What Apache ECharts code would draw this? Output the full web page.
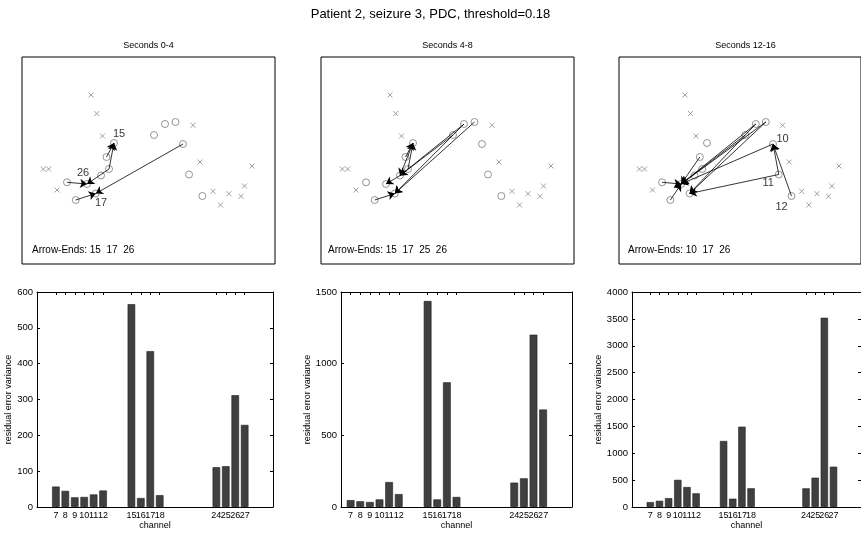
<!DOCTYPE html>
<html><head><meta charset="utf-8">
<script src="https://cdn.jsdelivr.net/npm/echarts@6/dist/echarts.min.js"></script>
<style>html,body{margin:0;padding:0;background:#fff}#c{width:861px;height:534px}</style>
</head><body><div id="c"></div>
<script>
// ---------------- data ----------------
const chartTitle = 'Patient 2, seizure 3, PDC, threshold=0.18';
const panelTitles = ['Seconds 0-4', 'Seconds 4-8', 'Seconds 12-16'];
const arrowEndsText = ['Arrow-Ends: 15  17  26', 'Arrow-Ends: 15  17  25  26', 'Arrow-Ends: 10  17  26'];

const channels = [7, 8, 9, 10, 11, 12, 15, 16, 17, 18, 24, 25, 26, 27];
const variance0_4 = [57, 45, 27, 28, 35, 46, 566, 25, 435, 33, 111, 114, 312, 229];
const variance4_8 = [48, 40, 35, 53, 174, 90, 1437, 53, 870, 70, 170, 200, 1202, 680];
const variance12_16 = [90, 115, 165, 505, 372, 254, 1228, 154, 1494, 348, 347, 545, 3520, 750];
const yMaxes = [600, 1500, 4000];
const ySteps = [100, 500, 500];
const xRanges = [[5, 30], [6, 30], [5, 30]];

// electrode map (map units, y downwards)
const otherElectrodes = [[69, 38], [74.7, 56.5], [80.5, 79], [21.3, 112], [26.7, 112], [35, 133],
  [171, 68.3], [178, 105], [230, 109], [222.5, 129], [191, 134.3], [207, 136.7], [219, 139.3], [198.5, 148]];
const channelPos = {
  7: [132, 78], 8: [143, 67], 9: [153.5, 65], 10: [161, 87], 11: [167, 117.5], 12: [180.3, 139],
  15: [92, 86], 16: [84.5, 100], 17: [73.8, 136.5], 18: [87, 112],
  24: [45, 125.3], 25: [79, 118.5], 26: [65, 127], 27: [53.7, 143]
};
const arrows0_4 = [[24, 26], [18, 26], [16, 15], [18, 15], [27, 17], [10, 17]];
const arrows4_8 = [[16, 15], [18, 15], [15, 25], [25, 26], [27, 17], [7, 25], [8, 25], [8, 17], [9, 17]];
const arrows12_16 = [[12, 10], [11, 10], [7, 26], [8, 26], [9, 26], [16, 26], [24, 26], [27, 26], [10, 26], [11, 17], [9, 17], [8, 17]];
const nodeLabels0_4 = [['15', [97, 77]], ['26', [61, 116]], ['17', [79, 146]]];
const nodeLabels4_8 = [];
const nodeLabels12_16 = [['10', [171, 82]], ['11', [156, 126]], ['12', [170, 150]]];

// ---------------- layout ----------------
const FONT = '"Liberation Sans", Arial, Helvetica, sans-serif';
const mapLeft = [22, 321, 619], mapTop = 57, mapW = 253, mapH = 207;
const barLeft = [37, 341, 632], barW = [236, 231, 231], barTop = 292, barH = 215;
const arrowTextOffset = [10, 7, 9];

const varianceSets = [variance0_4, variance4_8, variance12_16];
const arrowSets = [arrows0_4, arrows4_8, arrows12_16];
const labelSets = [nodeLabels0_4, nodeLabels4_8, nodeLabels12_16];
// alternate channels go on two overlaid label rows so no label gets auto-hidden
const labelsA = channels.filter((c, i) => i % 2 === 0);
const labelsB = channels.filter((c, i) => i % 2 === 1);

const grid = [], xAxis = [], yAxis = [], series = [], title = [];

title.push({ text: chartTitle, left: 'center', top: 8, padding: 0,
  textStyle: { fontSize: 13, fontWeight: 'normal', color: '#000', fontFamily: FONT } });

const crossPath = 'path://M0,0L10,10M10,0L0,10';

for (let p = 0; p < 3; p++) {
  // ---------- map panel ----------
  const gi = grid.length;
  grid.push({ left: mapLeft[p], top: mapTop, width: mapW, height: mapH, show: true,
    borderColor: '#000', borderWidth: 1, backgroundColor: '#fff', containLabel: false });
  const xi = xAxis.length, yi = yAxis.length;
  xAxis.push({ type: 'value', gridIndex: gi, min: 0, max: mapW, show: false });
  yAxis.push({ type: 'value', gridIndex: gi, min: 0, max: mapH, inverse: true, show: false });

  title.push({ text: panelTitles[p], left: mapLeft[p] + mapW / 2, textAlign: 'center', top: 41, padding: 0,
    textStyle: { fontSize: 9, fontWeight: 'normal', color: '#000', fontFamily: FONT } });
  title.push({ text: arrowEndsText[p], left: mapLeft[p] + arrowTextOffset[p], top: 245, padding: 0,
    textStyle: { fontSize: 10, fontWeight: 'normal', color: '#000', fontFamily: FONT } });

  series.push({ type: 'scatter', xAxisIndex: xi, yAxisIndex: yi, silent: true,
    symbol: crossPath, symbolSize: 5,
    itemStyle: { color: 'none', borderColor: '#8a8a8a', borderWidth: 1 },
    data: otherElectrodes, z: 2 });
  series.push({ type: 'scatter', xAxisIndex: xi, yAxisIndex: yi, silent: true,
    symbol: 'circle', symbolSize: 7,
    itemStyle: { color: 'none', borderColor: '#7a7a7a', borderWidth: 1 },
    data: channels.map(c => channelPos[c]), z: 2 });
  series.push({ type: 'lines', coordinateSystem: 'cartesian2d', xAxisIndex: xi, yAxisIndex: yi, silent: true,
    symbol: ['none', 'arrow'], symbolSize: 7,
    lineStyle: { color: '#000', width: 0.8, opacity: 1 },
    data: arrowSets[p].map(a => ({ coords: [channelPos[a[0]], channelPos[a[1]]] })), z: 3 });
  if (labelSets[p].length) {
    series.push({ type: 'scatter', xAxisIndex: xi, yAxisIndex: yi, silent: true, symbolSize: 0,
      data: labelSets[p].map(l => ({ name: l[0], value: l[1] })),
      label: { show: true, position: 'inside', formatter: '{b}', color: '#000', fontSize: 11, fontFamily: FONT },
      z: 4 });
  }

  // ---------- bar panel ----------
  const bg = grid.length;
  grid.push({ left: barLeft[p], top: barTop, width: barW[p], height: barH, show: false, containLabel: false });
  const bxi = xAxis.length;
  const axisLine = { show: true, onZero: false, lineStyle: { color: '#000', width: 1 } };
  const lab = { fontSize: 9, color: '#000', margin: 4, fontFamily: FONT,
    hideOverlap: false, showMinLabel: true, showMaxLabel: true, formatter: v => String(v) };
  xAxis.push({ type: 'value', gridIndex: bg, position: 'bottom', min: xRanges[p][0], max: xRanges[p][1],
    axisLine, splitLine: { show: false },
    axisTick: { show: true, inside: true, length: 3, customValues: channels, lineStyle: { color: '#000' } },
    axisLabel: Object.assign({ show: true, customValues: labelsA }, lab),
    name: 'channel', nameLocation: 'middle', nameGap: 13,
    nameTextStyle: { fontSize: 9, color: '#000', fontFamily: FONT } });
  xAxis.push({ type: 'value', gridIndex: bg, position: 'bottom', offset: 0, min: xRanges[p][0], max: xRanges[p][1],
    axisLine: { show: false, onZero: false }, splitLine: { show: false }, axisTick: { show: false },
    axisLabel: Object.assign({ show: true, customValues: labelsB }, lab) });
  xAxis.push({ type: 'value', gridIndex: bg, position: 'top', min: xRanges[p][0], max: xRanges[p][1],
    axisLine, splitLine: { show: false },
    axisTick: { show: true, inside: true, length: 3, customValues: channels, lineStyle: { color: '#000' } },
    axisLabel: { show: false } });
  const byi = yAxis.length;
  yAxis.push({ type: 'value', gridIndex: bg, position: 'left', min: 0, max: yMaxes[p], interval: ySteps[p],
    axisLine, splitLine: { show: false },
    axisTick: { show: true, inside: true, length: 3, lineStyle: { color: '#000' } },
    axisLabel: { show: true, fontSize: 9.5, color: '#000', margin: 4, fontFamily: FONT, formatter: v => String(v) },
    name: 'residual error variance', nameLocation: 'middle', nameGap: 14, nameRotate: 90,
    nameTextStyle: { fontSize: 9, color: '#000', fontFamily: FONT } });
  yAxis.push({ type: 'value', gridIndex: bg, position: 'right', min: 0, max: yMaxes[p], interval: ySteps[p],
    axisLine, splitLine: { show: false },
    axisTick: { show: true, inside: true, length: 3, lineStyle: { color: '#000' } },
    axisLabel: { show: false } });
  series.push({ type: 'bar', xAxisIndex: bxi, yAxisIndex: byi, silent: true, barWidth: '80%',
    itemStyle: { color: '#404040', borderColor: '#1e1e1e', borderWidth: 0.6 },
    data: channels.map((c, i) => [c, varianceSets[p][i]]) });
}

const chart = echarts.init(document.getElementById('c'), null, { renderer: 'canvas' });
chart.setOption({ animation: false, backgroundColor: '#fff', textStyle: { fontFamily: FONT },
  title, grid, xAxis, yAxis, series });
</script></body></html>
